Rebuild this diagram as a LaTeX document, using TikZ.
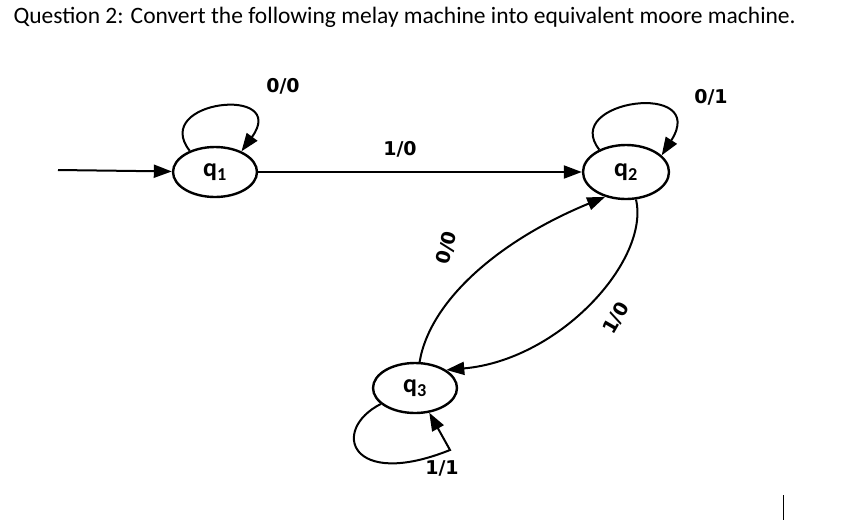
\documentclass[tikz,border=0pt]{standalone}
\usepackage{fontspec}
\setmainfont{Carlito}
\newfontfamily\lblfont{DejaVu Sans}
\usetikzlibrary{arrows.meta,shapes.geometric}
\begin{document}
\begin{tikzpicture}[x=1pt,y=-1pt,
  st/.style={draw,line width=2.4pt,ellipse,minimum width=84pt,minimum height=50pt,inner sep=0pt,font=\fontsize{26}{26}\selectfont\bfseries},
  ed/.style={line width=2pt,-{Triangle[length=18pt,width=13pt]}},
  lbl/.style={font=\lblfont\bfseries\fontsize{19}{19}\selectfont}]
\useasboundingbox (0,0) rectangle (845,531);
\node[anchor=base west,font=\fontsize{23.5}{24}\selectfont] (title) at (10,23) {Question 2: Convert the following melay machine into equivalent moore machine.};
\node[st] (q1) at (215,172) {$\mathbf{q_1}$};
\node[st,minimum width=86pt,minimum height=54pt] (q2) at (626,172) {$\mathbf{q_2}$};
\node[st] (q3) at (415,388) {$\mathbf{q_3}$};
\coordinate (s) at (58,170);
\draw[ed] (s) -- (q1);
\draw[ed] (q1) -- (q1.east -| q2.west) coordinate (q2w);
\draw[ed] (q1.140) .. controls (150,100) and (290,85) .. (q1.38);
\draw[ed] (q2.140) .. controls (560,100) and (710,80) .. (q2.25);
\draw[ed] (q3.80) .. controls (430,300) and (500,240) .. (q2.230);
\draw[ed] (q2.290) .. controls (650,260) and (560,360) .. (q3.30);
\draw[ed] (q3.205) .. controls (330,430) and (350,490) .. (450,450) -- (q3.300);
\node[lbl] (l1) at (283,86) {0/0};
\node[lbl] (l2) at (400,149) {1/0};
\node[lbl] (l3) at (711,97) {0/1};
\node[lbl,rotate=75,inner sep=1pt] (l4) at (447,248) {0/0};
\node[lbl,rotate=60,inner sep=1pt] (l5) at (616,318) {1/0};
\node[lbl] (l6) at (442,468) {1/1};
\draw[line width=0.8pt] (783,495) coordinate (c1) -- (783,520) coordinate (c2);
\end{tikzpicture}
\end{document}
